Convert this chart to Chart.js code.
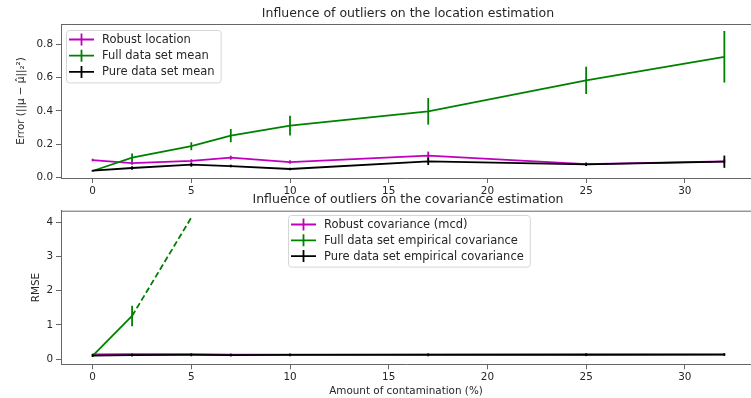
<!DOCTYPE html>
<html>
<head>
<meta charset="utf-8">
<script src="https://cdn.jsdelivr.net/npm/chart.js@4.4.1/dist/chart.umd.min.js"></script>
<style>
  body { margin: 0; background: #fff; overflow: hidden; }
  #wrap { position: relative; width: 751px; height: 398px; }
  canvas { position: absolute; left: 0; }
  #locChart { top: 0; }
  #covChart { top: 190px; }
</style>
</head>
<body>
<div id="wrap">
  <canvas id="locChart" width="751" height="200"></canvas>
  <canvas id="covChart" width="751" height="208"></canvas>
</div>
<script>
// amount of contamination (x values shared by both panels)
const contamination = [0, 2, 5, 7, 10, 17, 25, 32];

// location panel
const robustLocation    = [0.104, 0.086, 0.099, 0.118, 0.092, 0.130, 0.080, 0.096];
const robustLocationErr = [0.008, 0.010, 0.010, 0.012, 0.010, 0.025, 0.008, 0.012];
const fullMean          = [0.038, 0.118, 0.187, 0.251, 0.311, 0.397, 0.583, 0.725];
const fullMeanErr       = [0.003, 0.026, 0.024, 0.040, 0.060, 0.080, 0.082, 0.155];
const pureMean          = [0.040, 0.056, 0.076, 0.068, 0.050, 0.096, 0.078, 0.094];
const pureMeanErr       = [0.004, 0.010, 0.012, 0.008, 0.008, 0.022, 0.010, 0.037];

// covariance panel
const robustCov    = [0.135, 0.140, 0.145, 0.130, 0.130, 0.135, 0.137, 0.137];
const robustCovErr = [0.020, 0.020, 0.020, 0.020, 0.020, 0.020, 0.020, 0.020];
const fullCov      = [0.09, 1.26];
const fullCovErr   = [0.02, 0.30];
const fullCovTail  = [1.26, 4.14];   // dashed continuation, x = 2..5
const pureCov      = [0.100, 0.115, 0.120, 0.115, 0.118, 0.120, 0.125, 0.130];
const pureCovErr   = [0.040, 0.040, 0.040, 0.040, 0.040, 0.040, 0.040, 0.040];

const locTicksY = [0, 0.2, 0.4, 0.6, 0.8];
const covTicksY = [0, 1, 2, 3, 4];

const MAGENTA = '#bf00bf';
const GREEN = '#008000';
const BLACK = '#000000';
const FONT = '"DejaVu Sans", sans-serif';
const LABEL_COLOR = '#262626';
const SPINE = '#666';

Chart.defaults.font.family = FONT;
Chart.defaults.color = LABEL_COLOR;

function pts(xs, ys) {
    return xs.map((x, i) => ({ x: x, y: ys[i] }));
}

const errorBars = {
    id: 'errorBars',
    afterDatasetDraw(chart, args) {
        const ds = chart.data.datasets[args.index];
        if (!ds.errors) return;
        const ctx = chart.ctx;
        const xs = chart.scales.x, ys = chart.scales.y;
        ctx.save();
        ctx.strokeStyle = ds.borderColor;
        ctx.lineWidth = ds.borderWidth;
        ds.data.forEach((p, i) => {
            const e = ds.errors[i];
            const px = xs.getPixelForValue(p.x);
            ctx.beginPath();
            ctx.moveTo(px, ys.getPixelForValue(p.y - e));
            ctx.lineTo(px, ys.getPixelForValue(p.y + e));
            ctx.stroke();
        });
        ctx.restore();
    }
};

const frameAndTitle = {
    id: 'frameAndTitle',
    afterDraw(chart, args, opts) {
        const ctx = chart.ctx;
        const a = chart.chartArea;
        ctx.save();
        ctx.strokeStyle = SPINE;
        ctx.lineWidth = 1;
        ctx.beginPath();
        ctx.moveTo(a.left, a.top + 0.5);
        ctx.lineTo(a.right, a.top + 0.5);
        ctx.stroke();
        ctx.fillStyle = LABEL_COLOR;
        ctx.font = '12.5px ' + FONT;
        ctx.textAlign = 'center';
        ctx.textBaseline = 'middle';
        ctx.fillText(opts.text, 408, opts.y);
        ctx.restore();
    }
};

const boxLegend = {
    id: 'boxLegend',
    afterDraw(chart, args, opts) {
        const ctx = chart.ctx;
        const items = chart.data.datasets.filter(d => d.label);
        ctx.save();
        ctx.font = '11.5px ' + FONT;
        const textW = Math.max(...items.map(d => ctx.measureText(d.label).width));
        const x = opts.x, y = opts.y, rowH = opts.rowH;
        const w = 36 + textW + 6;
        const h = rowH * (items.length - 1) + 20;
        ctx.beginPath();
        ctx.roundRect(x + 0.5, y + 0.5, w, h, 3);
        ctx.fillStyle = 'rgba(255,255,255,0.8)';
        ctx.fill();
        ctx.strokeStyle = '#d6d6d6';
        ctx.lineWidth = 1;
        ctx.stroke();
        items.forEach((d, i) => {
            const cy = y + 9.5 + i * rowH;
            ctx.strokeStyle = d.borderColor;
            ctx.lineWidth = d.borderWidth;
            ctx.beginPath();
            ctx.moveTo(x + 3, cy);
            ctx.lineTo(x + 28, cy);
            ctx.moveTo(x + 15.5, cy - 6);
            ctx.lineTo(x + 15.5, cy + 6);
            ctx.stroke();
            ctx.fillStyle = LABEL_COLOR;
            ctx.textAlign = 'left';
            ctx.textBaseline = 'middle';
            ctx.fillText(d.label, x + 36, cy + 0.5);
        });
        ctx.restore();
    }
};

function makeScales(cfg) {
    return {
        x: {
            type: 'linear',
            min: -1.6,
            max: 33.35,
            afterFit: s => { s.height = cfg.xHeight; },
            border: { display: true, color: SPINE, width: 1 },
            grid: { display: true, drawOnChartArea: false, drawTicks: true, tickLength: 5, color: SPINE },
            ticks: { stepSize: 5, includeBounds: false, padding: 2, maxRotation: 0, font: { size: 10.4 }, color: LABEL_COLOR },
            title: {
                display: !!cfg.xTitle,
                text: cfg.xTitle || '',
                padding: 0,
                font: { size: 10.4 },
                color: LABEL_COLOR
            }
        },
        y: {
            type: 'linear',
            min: cfg.yMin,
            max: cfg.yMax,
            afterFit: s => { s.width = cfg.yWidth; },
            afterBuildTicks: s => { s.ticks = cfg.yTicks.map(v => ({ value: v })); },
            border: { display: true, color: SPINE, width: 1 },
            grid: { display: true, drawOnChartArea: false, drawTicks: true, tickLength: 5, color: SPINE },
            ticks: {
                padding: 3,
                font: { size: 10.4 },
                color: LABEL_COLOR,
                callback: cfg.yFormat
            },
            title: {
                display: true,
                text: cfg.yTitle,
                padding: 0,
                font: { size: 10.4 },
                color: LABEL_COLOR
            }
        }
    };
}

const lineBase = { borderWidth: 1.8, pointRadius: 0, fill: false, tension: 0 };

new Chart(document.getElementById('locChart').getContext('2d'), {
    type: 'line',
    data: {
        datasets: [
            Object.assign({}, lineBase, {
                label: 'Robust location',
                data: pts(contamination, robustLocation),
                errors: robustLocationErr,
                borderColor: MAGENTA,
                order: 2
            }),
            Object.assign({}, lineBase, {
                label: 'Full data set mean',
                data: pts(contamination, fullMean),
                errors: fullMeanErr,
                borderColor: GREEN,
                order: 1
            }),
            Object.assign({}, lineBase, {
                label: 'Pure data set mean',
                data: pts(contamination, pureMean),
                errors: pureMeanErr,
                borderColor: BLACK,
                order: 0
            })
        ]
    },
    options: {
        responsive: false,
        animation: false,
        devicePixelRatio: 1,
        layout: { padding: { left: 15, top: 24, right: 0, bottom: 0 } },
        scales: makeScales({
            xHeight: 22,
            yWidth: 46,
            yMin: -0.004,
            yMax: 0.922,
            yTicks: locTicksY,
            yFormat: v => v.toFixed(1),
            yTitle: 'Error (||μ − μ̂||₂²)'
        }),
        plugins: {
            legend: { display: false },
            tooltip: { enabled: false },
            frameAndTitle: { text: 'Influence of outliers on the location estimation', y: 13.3 },
            boxLegend: { x: 66, y: 30, rowH: 16.2 }
        }
    },
    plugins: [errorBars, frameAndTitle, boxLegend]
});

new Chart(document.getElementById('covChart').getContext('2d'), {
    type: 'line',
    data: {
        datasets: [
            Object.assign({}, lineBase, {
                label: 'Robust covariance (mcd)',
                data: pts(contamination, robustCov),
                errors: robustCovErr,
                borderColor: MAGENTA,
                order: 3
            }),
            Object.assign({}, lineBase, {
                label: 'Full data set empirical covariance',
                data: pts(contamination.slice(0, 2), fullCov),
                errors: fullCovErr,
                borderColor: GREEN,
                order: 2
            }),
            Object.assign({}, lineBase, {
                data: pts(contamination.slice(1, 3), fullCovTail),
                borderColor: GREEN,
                borderDash: [6, 3],
                order: 1
            }),
            Object.assign({}, lineBase, {
                label: 'Pure data set empirical covariance',
                data: pts(contamination, pureCov),
                errors: pureCovErr,
                borderColor: BLACK,
                order: 0
            })
        ]
    },
    options: {
        responsive: false,
        animation: false,
        devicePixelRatio: 1,
        layout: { padding: { left: 30, top: 20.7, right: 0, bottom: 0 } },
        scales: makeScales({
            xHeight: 33.7,
            yWidth: 31,
            yMin: -0.155,
            yMax: 4.34,
            yTicks: covTicksY,
            yFormat: v => String(v),
            yTitle: 'RMSE',
            xTitle: 'Amount of contamination (%)'
        }),
        plugins: {
            legend: { display: false },
            tooltip: { enabled: false },
            frameAndTitle: { text: 'Influence of outliers on the covariance estimation', y: 9.3 },
            boxLegend: { x: 288, y: 25, rowH: 15.8 }
        }
    },
    plugins: [errorBars, frameAndTitle, boxLegend]
});
</script>
</body>
</html>
